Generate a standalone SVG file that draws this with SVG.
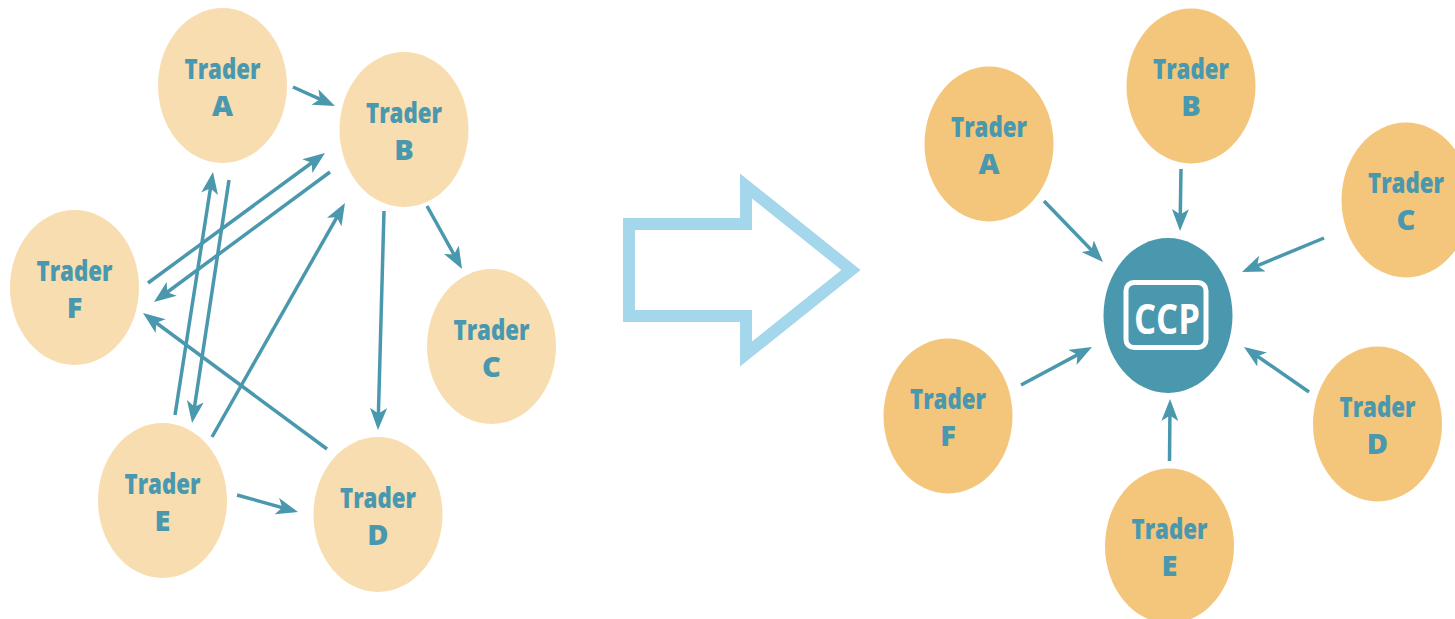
<svg xmlns="http://www.w3.org/2000/svg" width="1455" height="619" viewBox="0 0 1455 619">
<style>
.n1{fill:#f8ddb0}
.n2{fill:#f4c67b}
.t{font-family:"Open Sans","Noto Sans",sans-serif;font-weight:800;font-size:29px;fill:#4a98ae;text-anchor:middle}
.c line{stroke:#4a98ae;stroke-width:3.5;fill:none;marker-end:url(#ah)}
</style>
<defs>
<marker id="ah" markerUnits="userSpaceOnUse" viewBox="0 0 22 17" markerWidth="22" markerHeight="17" refX="17" refY="8.5" orient="auto">
<path d="M0,0 L22,8.5 L0,17 L5.5,8.5 Z" fill="#4a98ae"/>
</marker>
</defs>
<rect width="1455" height="619" fill="#ffffff"/>

<g id="left-A"><ellipse class="n1" cx="222.5" cy="85.5" rx="64.5" ry="77.5"/><text class="t" x="222.5" y="78.5" textLength="76" lengthAdjust="spacingAndGlyphs">Trader</text><text class="t" x="222.5" y="115.5">A</text></g>
<g id="left-B"><ellipse class="n1" cx="404" cy="129.5" rx="64.5" ry="77.5"/><text class="t" x="404" y="122.5" textLength="76" lengthAdjust="spacingAndGlyphs">Trader</text><text class="t" x="404" y="159.5">B</text></g>
<g id="left-C"><ellipse class="n1" cx="491.5" cy="346.5" rx="64.5" ry="77.5"/><text class="t" x="491.5" y="339.5" textLength="76" lengthAdjust="spacingAndGlyphs">Trader</text><text class="t" x="491.5" y="376.5">C</text></g>
<g id="left-D"><ellipse class="n1" cx="378" cy="514.5" rx="64.5" ry="77.5"/><text class="t" x="378" y="507.5" textLength="76" lengthAdjust="spacingAndGlyphs">Trader</text><text class="t" x="378" y="544.5">D</text></g>
<g id="left-E"><ellipse class="n1" cx="162.5" cy="500.5" rx="64.5" ry="77.5"/><text class="t" x="162.5" y="493.5" textLength="76" lengthAdjust="spacingAndGlyphs">Trader</text><text class="t" x="162.5" y="530.5">E</text></g>
<g id="left-F"><ellipse class="n1" cx="74.5" cy="287.5" rx="64.5" ry="77.5"/><text class="t" x="74.5" y="280.5" textLength="76" lengthAdjust="spacingAndGlyphs">Trader</text><text class="t" x="74.5" y="317.5">F</text></g>

<g id="big-arrow"><polygon points="629,224 746,224 746,186 851,270 746,354 746,316 629,316" fill="none" stroke="#a4d6ec" stroke-width="12"/></g>

<g id="right-A"><ellipse class="n2" cx="989" cy="144" rx="64.5" ry="77.5"/><text class="t" x="989" y="137" textLength="76" lengthAdjust="spacingAndGlyphs">Trader</text><text class="t" x="989" y="174">A</text></g>
<g id="right-B"><ellipse class="n2" cx="1191" cy="86" rx="64.5" ry="77.5"/><text class="t" x="1191" y="79" textLength="76" lengthAdjust="spacingAndGlyphs">Trader</text><text class="t" x="1191" y="116">B</text></g>
<g id="right-C"><ellipse class="n2" cx="1406" cy="200" rx="64.5" ry="77.5"/><text class="t" x="1406" y="193" textLength="76" lengthAdjust="spacingAndGlyphs">Trader</text><text class="t" x="1406" y="230">C</text></g>
<g id="right-D"><ellipse class="n2" cx="1377.5" cy="424" rx="64.5" ry="77.5"/><text class="t" x="1377.5" y="417" textLength="76" lengthAdjust="spacingAndGlyphs">Trader</text><text class="t" x="1377.5" y="454">D</text></g>
<g id="right-E"><ellipse class="n2" cx="1169.5" cy="546" rx="64.5" ry="77.5"/><text class="t" x="1169.5" y="539" textLength="76" lengthAdjust="spacingAndGlyphs">Trader</text><text class="t" x="1169.5" y="576">E</text></g>
<g id="right-F"><ellipse class="n2" cx="948" cy="416" rx="64.5" ry="77.5"/><text class="t" x="948" y="409" textLength="76" lengthAdjust="spacingAndGlyphs">Trader</text><text class="t" x="948" y="446">F</text></g>

<g id="CCP">
<ellipse cx="1168" cy="315.5" rx="64.5" ry="77.5" fill="#4a98ae"/>
<rect x="1126" y="282.5" width="80" height="65" rx="8" fill="none" stroke="#ffffff" stroke-width="5"/>
<text x="1167" y="333.5" font-family="Open Sans, Noto Sans, sans-serif" font-weight="700" font-size="42" fill="#ffffff" text-anchor="middle" textLength="66" lengthAdjust="spacingAndGlyphs">CCP</text>
</g>

<g id="connectors" class="c">
<line x1="293" y1="87" x2="330.4" y2="103.9"/>
<line x1="148" y1="283" x2="321" y2="156"/>
<line x1="330" y1="172" x2="158" y2="299"/>
<line x1="175" y1="415" x2="212.2" y2="176.9"/>
<line x1="229" y1="180" x2="192.8" y2="418.1"/>
<line x1="212" y1="437" x2="342.5" y2="207.3"/>
<line x1="327" y1="449" x2="147" y2="316"/>
<line x1="237" y1="495" x2="293.2" y2="510.7"/>
<line x1="384" y1="211" x2="378.1" y2="425"/>
<line x1="427" y1="206" x2="459.6" y2="264.6"/>
<line x1="1044" y1="201" x2="1099.5" y2="258.4"/>
<line x1="1181" y1="169" x2="1180.1" y2="226"/>
<line x1="1324" y1="238" x2="1246.6" y2="270.1"/>
<line x1="1021" y1="385" x2="1087.6" y2="349.4"/>
<line x1="1169.5" y1="461" x2="1170" y2="404"/>
<line x1="1309" y1="392" x2="1248.1" y2="349.8"/>
</g>
</svg>
